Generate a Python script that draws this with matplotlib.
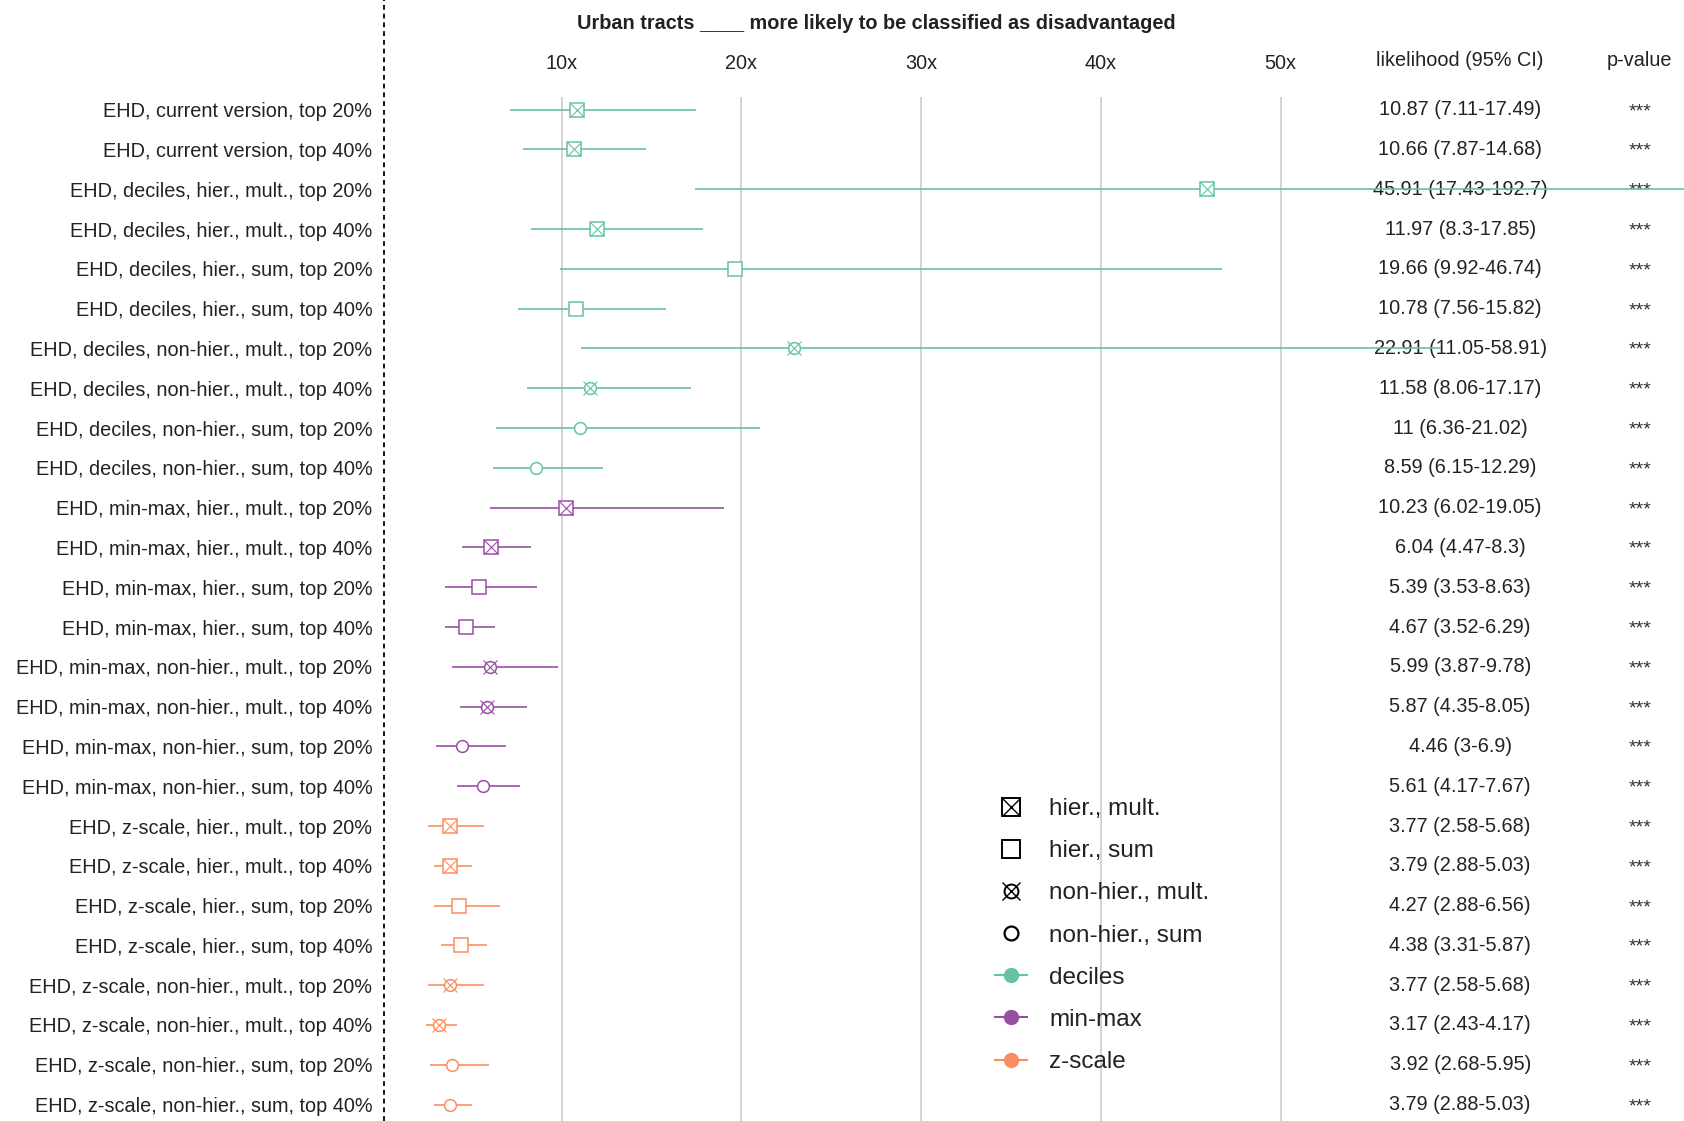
import matplotlib
matplotlib.use("Agg")
import matplotlib.pyplot as plt
from matplotlib.lines import Line2D
from matplotlib.legend_handler import HandlerTuple
import numpy as np

plt.rcParams['font.family'] = ['Liberation Sans', 'DejaVu Sans']

labels = [
    "EHD, current version, top 20%",
    "EHD, current version, top 40%",
    "EHD, deciles, hier., mult., top 20%",
    "EHD, deciles, hier., mult., top 40%",
    "EHD, deciles, hier., sum, top 20%",
    "EHD, deciles, hier., sum, top 40%",
    "EHD, deciles, non-hier., mult., top 20%",
    "EHD, deciles, non-hier., mult., top 40%",
    "EHD, deciles, non-hier., sum, top 20%",
    "EHD, deciles, non-hier., sum, top 40%",
    "EHD, min-max, hier., mult., top 20%",
    "EHD, min-max, hier., mult., top 40%",
    "EHD, min-max, hier., sum, top 20%",
    "EHD, min-max, hier., sum, top 40%",
    "EHD, min-max, non-hier., mult., top 20%",
    "EHD, min-max, non-hier., mult., top 40%",
    "EHD, min-max, non-hier., sum, top 20%",
    "EHD, min-max, non-hier., sum, top 40%",
    "EHD, z-scale, hier., mult., top 20%",
    "EHD, z-scale, hier., mult., top 40%",
    "EHD, z-scale, hier., sum, top 20%",
    "EHD, z-scale, hier., sum, top 40%",
    "EHD, z-scale, non-hier., mult., top 20%",
    "EHD, z-scale, non-hier., mult., top 40%",
    "EHD, z-scale, non-hier., sum, top 20%",
    "EHD, z-scale, non-hier., sum, top 40%",
]
odds = [10.87, 10.66, 45.91, 11.97, 19.66, 10.78, 22.91, 11.58, 11, 8.59,
        10.23, 6.04, 5.39, 4.67, 5.99, 5.87, 4.46, 5.61,
        3.77, 3.79, 4.27, 4.38, 3.77, 3.17, 3.92, 3.79]
ci_low = [7.11, 7.87, 17.43, 8.3, 9.92, 7.56, 11.05, 8.06, 6.36, 6.15,
          6.02, 4.47, 3.53, 3.52, 3.87, 4.35, 3, 4.17,
          2.58, 2.88, 2.88, 3.31, 2.58, 2.43, 2.68, 2.88]
ci_high = [17.49, 14.68, 192.7, 17.85, 46.74, 15.82, 58.91, 17.17, 21.02, 12.29,
           19.05, 8.3, 8.63, 6.29, 9.78, 8.05, 6.9, 7.67,
           5.68, 5.03, 6.56, 5.87, 5.68, 4.17, 5.95, 5.03]
ci_text = ["10.87 (7.11-17.49)", "10.66 (7.87-14.68)", "45.91 (17.43-192.7)",
           "11.97 (8.3-17.85)", "19.66 (9.92-46.74)", "10.78 (7.56-15.82)",
           "22.91 (11.05-58.91)", "11.58 (8.06-17.17)", "11 (6.36-21.02)",
           "8.59 (6.15-12.29)", "10.23 (6.02-19.05)", "6.04 (4.47-8.3)",
           "5.39 (3.53-8.63)", "4.67 (3.52-6.29)", "5.99 (3.87-9.78)",
           "5.87 (4.35-8.05)", "4.46 (3-6.9)", "5.61 (4.17-7.67)",
           "3.77 (2.58-5.68)", "3.79 (2.88-5.03)", "4.27 (2.88-6.56)",
           "4.38 (3.31-5.87)", "3.77 (2.58-5.68)", "3.17 (2.43-4.17)",
           "3.92 (2.68-5.95)", "3.79 (2.88-5.03)"]
pvals = ["***"] * 26
scaling = ["deciles"] * 10 + ["min-max"] * 8 + ["z-scale"] * 8
method = (["hier., mult."] * 2
          + ["hier., mult.", "hier., mult.", "hier., sum", "hier., sum",
             "non-hier., mult.", "non-hier., mult.", "non-hier., sum", "non-hier., sum"] * 3)
xticks = [10, 20, 30, 40, 50]

colors = {"deciles": "#66c2a5", "min-max": "#984ea3", "z-scale": "#fc8d62"}
txt = "#222222"

W, H = 1684, 1121
fig = plt.figure(figsize=(W / 100, H / 100), dpi=100)
ax_left = 382 / W
ax_top = 97 / H
ax = fig.add_axes([ax_left, 0, 1 - ax_left, 1 - ax_top])

y = np.arange(len(labels))
odds = np.array(odds)
cols = [colors[s] for s in scaling]

ax.hlines(y, ci_low, ci_high, colors=cols, lw=1.2, zorder=2)

for i in range(len(y)):
    m = method[i]
    c = cols[i]
    if m.startswith("hier."):
        ax.plot(odds[i], y[i], marker='s', ms=10.5, mfc='white', mec=c, mew=1.1, ls='none', zorder=3)
        if m.endswith("mult."):
            ax.plot(odds[i], y[i], marker='x', ms=10.5, mec=c, mew=0.8, ls='none', zorder=4)
    else:
        ax.plot(odds[i], y[i], marker='o', ms=8.5, mfc='white', mec=c, mew=1.1, ls='none', zorder=3)
        if m.endswith("mult."):
            ax.plot(odds[i], y[i], marker='x', ms=10.5, mec=c, mew=0.8, ls='none', zorder=4)

px_per_unit = 17.97
ax.set_xlim(0, (W - 382) / px_per_unit)
row_px = 39.8
ax.set_ylim((H - 109.6) / row_px, -(109.6 - 97) / row_px)

ax.set_xticks(xticks, [f"{t}x" for t in xticks])
ax.xaxis.set_ticks_position('top')
ax.tick_params(axis='x', length=0, pad=17, labelsize=14.3, labelcolor=txt)
ax.set_yticks(y, labels)
ax.tick_params(axis='y', length=0, pad=7, labelsize=14.3, labelcolor=txt)
ax.grid(axis='x', color='#c8c8c8', lw=1.1, zorder=0)
ax.set_axisbelow(True)
for s in ax.spines.values():
    s.set_visible(False)

ax.axvline(0.1, ymin=0, ymax=H / (H - 97), color='#111111', lw=1.4, ls=(0, (2.5, 2)),
           clip_on=False, zorder=5)

trans = ax.get_xaxis_transform()
ax.text(27.5, (H - 23.5) / (H - 97), "Urban tracts ____ more likely to be classified as disadvantaged",
        transform=trans, ha='center', va='center', fontsize=14.3, fontweight='bold', color=txt)
ax.text(60, (H - 61) / (H - 97), "likelihood (95% CI)", transform=trans, ha='center', va='center',
        fontsize=14.3, color=txt)
ax.text(70, (H - 61) / (H - 97), "p-value", transform=trans, ha='center', va='center',
        fontsize=14.3, color=txt)
for i in range(len(y)):
    ax.text(60, y[i], ci_text[i], ha='center', va='center', fontsize=14.3, color=txt, zorder=1)
    ax.text(70, y[i] + 0.05, pvals[i], ha='center', va='center', fontsize=14, color='#333333', zorder=1)

h_hm = (Line2D([], [], marker='s', ms=13, mfc='none', mec='black', mew=1.4, ls='none'),
        Line2D([], [], marker='x', ms=13, mec='black', mew=1.0, ls='none'))
h_hs = Line2D([], [], marker='s', ms=13, mfc='none', mec='black', mew=1.4, ls='none')
h_nm = (Line2D([], [], marker='o', ms=10, mfc='none', mec='black', mew=1.4, ls='none'),
        Line2D([], [], marker='x', ms=13, mec='black', mew=1.0, ls='none'))
h_ns = Line2D([], [], marker='o', ms=10, mfc='none', mec='black', mew=1.6, ls='none')
handles = [h_hm, h_hs, h_nm, h_ns]
leg_labels = ["hier., mult.", "hier., sum", "non-hier., mult.", "non-hier., sum"]
for k in ["deciles", "min-max", "z-scale"]:
    handles.append(Line2D([], [], color=colors[k], marker='o', ms=10, lw=1.5))
    leg_labels.append(k)

fig.legend(handles, leg_labels, loc='upper left', bbox_to_anchor=(995 / W, 1 - 798 / H),
           frameon=False, fontsize=17.5, labelcolor=txt, handlelength=1.3, handletextpad=0.92,
           labelspacing=0.83, borderpad=0, borderaxespad=0,
           handler_map={tuple: HandlerTuple(ndivide=1)})

fig.savefig("out.png", dpi=100)
